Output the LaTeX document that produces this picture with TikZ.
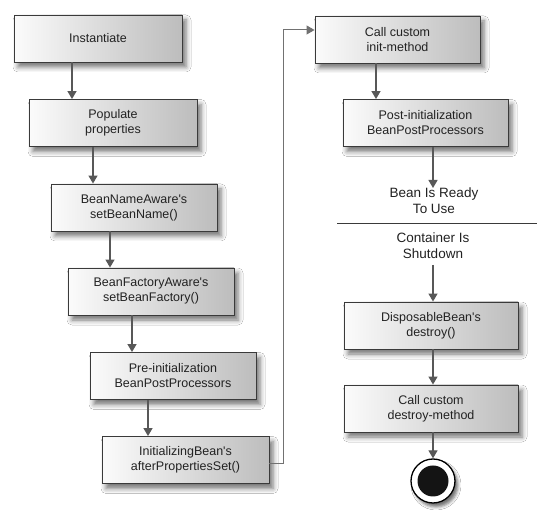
\documentclass[tikz,border=0pt]{standalone}
\usepackage{fontspec}
\setmainfont{Liberation Sans}
\usetikzlibrary{arrows.meta,shadows.blur}
\definecolor{boxline}{HTML}{3A3A3A}
\definecolor{arrline}{HTML}{585858}
\definecolor{txt}{HTML}{222222}
\begin{document}
\begin{tikzpicture}[x=1pt,y=-1pt,
  stepbox/.style={draw=boxline, line width=0.9pt, left color=gray!3, right color=gray!52,
    minimum width=166pt, minimum height=47pt, inner sep=0pt, align=center, text=txt,
    font=\fontsize{12.5}{15}\selectfont,
    blur shadow={shadow xshift=4pt, shadow yshift=-5pt, shadow blur radius=5pt, shadow opacity=55}},
  lbl/.style={align=center, inner sep=0pt, text=txt, font=\fontsize{13.5}{16}\selectfont},
  arr/.style={draw=arrline, line width=1.3pt, -{Triangle[width=9pt,length=8pt]}},
  loopline/.style={draw=arrline!85, line width=1pt, -{Triangle[width=9pt,length=8pt]}}]
\useasboundingbox[fill=white] (0,0) rectangle (558,518);
\node[stepbox, minimum width=168pt] (b1) at (98,38.5){Instantiate};
\node[stepbox, minimum width=168pt] (b2) at (113,123){Populate\\properties};
\node[stepbox] (b3) at (134,207.5){BeanNameAware\textquotesingle s\\setBeanName()};
\node[stepbox] (b4) at (151,291.5){BeanFactoryAware\textquotesingle s\\setBeanFactory()};
\node[stepbox] (b5) at (173,376){Pre-initialization\\BeanPostProcessors};
\node[stepbox, minimum width=167pt] (b6) at (185.5,460){InitializingBean\textquotesingle s\\afterPropertiesSet()};
\node[stepbox, minimum width=165pt] (b7) at (397.5,39.5){Call custom\\init-method};
\node[stepbox, minimum width=165pt] (b8) at (425.5,123){Post-initialization\\BeanPostProcessors};
\node[lbl, anchor=north] (ready) at (434,188){Bean Is Ready\\To Use};
\node[lbl, anchor=south] (down) at (433,259){Container Is\\Shutdown};
\node[stepbox, minimum width=174pt] (b9) at (431,325.5){DisposableBean\textquotesingle s\\destroy()};
\node[stepbox, minimum width=174pt] (b10) at (431,408.5){Call custom\\destroy-method};
\node[circle, draw=black, line width=1.3pt, fill=white, minimum size=44pt,
  blur shadow={shadow xshift=3pt, shadow yshift=-4pt, shadow blur radius=3pt, shadow opacity=55}] (end) at (433,481){};
\node[circle, fill=black!92, minimum size=31pt] (endin) at (end){};
\coordinate (x12) at (72,0);
\coordinate (x23) at (93,0);
\coordinate (x34) at (110,0);
\coordinate (x45) at (132,0);
\coordinate (x56) at (148,0);
\coordinate (x78) at (376,0);
\coordinate (xr) at (433,0);
\coordinate (turn) at (283,30);
\coordinate (sepl) at (337,223);
\coordinate (sepr) at (537,223);
\draw[arr](b1.south -| x12) -- (b2.north -| x12);
\draw[arr](b2.south -| x23) -- (b3.north -| x23);
\draw[arr](b3.south -| x34) -- (b4.north -| x34);
\draw[arr](b4.south -| x45) -- (b5.north -| x45);
\draw[arr](b5.south -| x56) -- (b6.north -| x56);
\draw[loopline]([yshift=-4pt]b6.east) -| (turn) -- (b7.west |- turn);
\draw[arr](b7.south -| x78) -- (b8.north -| x78);
\draw[arr](b8.south -| xr) -- (ready.north -| xr);
\draw[draw=boxline, line width=0.9pt](sepl) -- (sepr);
\draw[arr]([yshift=-6pt]down.south -| xr) -- (b9.north -| xr);
\draw[arr](b9.south -| xr) -- (b10.north -| xr);
\draw[arr](b10.south -| xr) -- (end.north -| xr);
\end{tikzpicture}
\end{document}
